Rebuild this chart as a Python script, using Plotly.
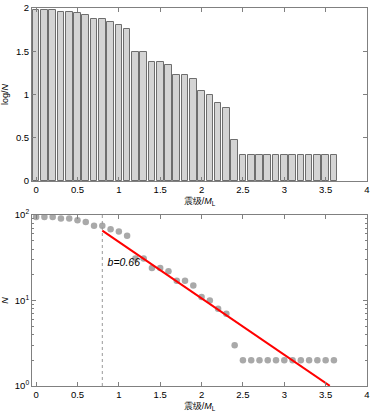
import numpy as np
import plotly.graph_objects as go

# Data
magnitudes = [round(0.1 * i, 1) for i in range(37)]
counts_N = [95, 95, 95, 91, 91, 87, 83, 75, 75, 68, 64, 57, 31, 31, 24, 24, 22, 17, 17, 15,
            11, 10, 8, 7, 3, 2, 2, 2, 2, 2, 2, 2, 2, 2, 2, 2, 2]
logN = [float(np.log10(n)) for n in counts_N]
mc = 0.8
fit_a = 2.345
fit_b = 0.66
fit_x = [0.8, 3.55]
fit_y = [10 ** (fit_a - fit_b * x) for x in fit_x]
fit_label = "<i>b=0.66</i>"
label_pos = (1.06, 27.5)

x_ticks = [0, 0.5, 1, 1.5, 2, 2.5, 3, 3.5, 4]
x_ticktext = ["0", "0.5", "1", "1.5", "2", "2.5", "3", "3.5", "4"]
y1_ticks = [0, 0.5, 1, 1.5, 2]
y1_ticktext = ["0", "0.5", "1", "1.5", "2"]
y2_ticks = [1, 10, 100]
y2_ticktext = ["10<sup>0</sup>", "10<sup>1</sup>", "10<sup>2</sup>"]

FONT = "Liberation Sans, Arial, sans-serif"
frame = "#808080"
TF = dict(family=FONT, size=9.5, color="black")

fig = go.Figure()
fig.add_trace(go.Bar(x=magnitudes, y=logN, width=0.08,
                     marker=dict(color="#d4d4d4", line=dict(color="#6e6e6e", width=1)),
                     xaxis="x", yaxis="y", showlegend=False))
fig.add_trace(go.Scatter(x=magnitudes, y=counts_N, mode="markers",
                         marker=dict(color="#a9a9a9", size=6.5),
                         xaxis="x2", yaxis="y2", showlegend=False))
fig.add_trace(go.Scatter(x=[mc, mc], y=[1, 100], mode="lines",
                         line=dict(color="#999999", width=1, dash="dot"),
                         xaxis="x2", yaxis="y2", showlegend=False))
fig.add_trace(go.Scatter(x=fit_x, y=fit_y, mode="lines",
                         line=dict(color="#ff0000", width=2),
                         xaxis="x2", yaxis="y2", showlegend=False))
fig.add_trace(go.Scatter(x=[label_pos[0]], y=[label_pos[1]], mode="text", text=[fit_label],
                         textfont=dict(family=FONT, size=10.5, color="black"),
                         xaxis="x2", yaxis="y2", showlegend=False))

xtitle = "震级/<i>M</i><sub>L</sub>"
base = dict(ticks="inside", ticklen=4, tickcolor=frame, showline=True, linecolor=frame,
            linewidth=1, mirror="ticks", showgrid=False, zeroline=False,
            tickfont=TF, automargin=False)
common_x = dict(base, range=[-0.05, 4], tickvals=x_ticks, ticktext=x_ticktext)

fig.update_layout(
    width=371, height=417,
    margin=dict(l=32, r=4, t=8, b=31),
    paper_bgcolor="white", plot_bgcolor="white",
    font=dict(family=FONT, size=9, color="black"),
    bargap=0,
    xaxis=dict(common_x, domain=[0, 1], anchor="y",
               title=dict(text=xtitle, standoff=3, font=dict(family=FONT, size=9))),
    yaxis=dict(base, domain=[0.5423, 1], anchor="x", range=[0, 2],
               tickvals=y1_ticks, ticktext=y1_ticktext,
               title=dict(text="log/<i>N</i>", standoff=6, font=dict(family=FONT, size=9))),
    xaxis2=dict(common_x, domain=[0, 1], anchor="y2",
                title=dict(text=xtitle, standoff=3, font=dict(family=FONT, size=9))),
    yaxis2=dict(base, domain=[0, 0.4524], anchor="x2", type="log", range=[0, 2],
                tickvals=y2_ticks, ticktext=y2_ticktext,
                minor=dict(ticks="inside", ticklen=2, tickcolor=frame,
                           tickvals=[2, 3, 4, 5, 6, 7, 8, 9, 20, 30, 40, 50, 60, 70, 80, 90]),
                title=dict(text="<i>N</i>", standoff=6, font=dict(family=FONT, size=9))),
)

fig.write_html("out.html", config={"displayModeBar": False},
               post_script="document.body.style.margin='0';document.body.style.overflow='hidden';")
